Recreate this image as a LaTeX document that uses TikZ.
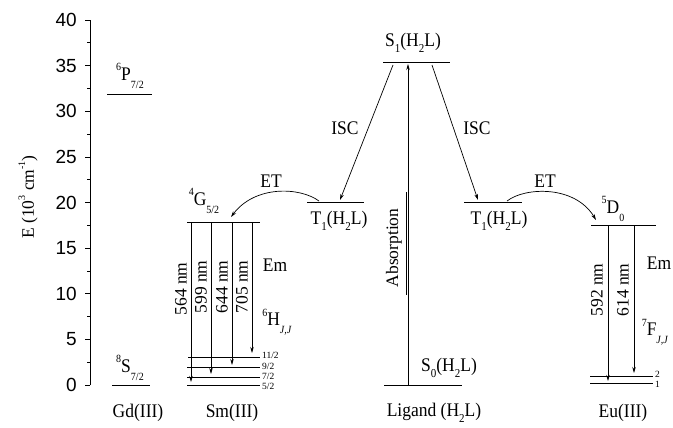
\documentclass[tikz,border=0pt]{standalone}
\usepackage{fontspec}
\setmainfont{Liberation Serif}
\newfontfamily\axfont{Liberation Sans}
\usetikzlibrary{arrows.meta}
\newcommand\lvlab[3]{\raisebox{0.5em}{\fontsize{10}{10}\selectfont #1}#2\raisebox{-0.4em}{\fontsize{10}{10}\selectfont #3}}
\newcommand\sm[1]{\raisebox{-0.3em}{\fontsize{11}{11}\selectfont #1}}
\newcommand\tl[1]{\scalebox{1}[1.1]{#1}}
\tikzset{
 lvl/.style={line width=1pt},
 tr/.style={line width=0.7pt,-{Stealth[length=6pt,width=3.5pt]}},
 lab/.style={font=\fontsize{17.5}{17.5}\selectfont, inner sep=0pt},
 wl/.style={font=\fontsize{17.5}{17.5}\selectfont, rotate=90, inner sep=0pt},
 sublab/.style={font=\fontsize{9.5}{9.5}\selectfont, inner sep=0pt, anchor=west},
 ticklab/.style={font=\axfont\fontsize{19}{19}\selectfont, anchor=east, inner sep=0pt},
}
\begin{document}
\begin{tikzpicture}[x=1pt,y=-1pt]
\useasboundingbox (0,0) rectangle (673,428);
% axis
\draw[line width=1pt] (90,385) -- (90,20.2);
\foreach \e in {0,5,...,40}{
  \draw[line width=1pt] (90,{385-9.12*\e}) -- ++(-5,0);
  \node[ticklab] (t\e) at (77,{385-9.12*\e}) {\e};
}
\foreach \e in {2.5,7.5,...,37.5}
  \draw[line width=1pt] (90,{385-9.12*\e}) -- ++(-3,0);
\node[lab,rotate=90] (ylab) at (28,197) {E (10\raisebox{0.5em}{\fontsize{10}{10}\selectfont 3} cm\raisebox{0.5em}{\fontsize{10}{10}\selectfont -1})};

% Gd
\draw[lvl] (107,95) -- (152,95);
\node[lab] (gdP) at (130,76) {\tl{\lvlab{6}{P}{7/2}}};
\draw[lvl] (112,385) -- (150,385);
\node[lab] (gdS) at (130,368) {\tl{\lvlab{8}{S}{7/2}}};
\node[lab] (gd) at (138,413) {\tl{Gd(III)}};

% Sm
\draw[lvl] (187,222) -- (260,222);
\node[lab] (smG) at (204,201) {\tl{\lvlab{4}{G}{5/2}}};
\coordinate (smtop1) at (191,222); \coordinate (smbot1) at (191,382);
\coordinate (smtop2) at (211,222); \coordinate (smbot2) at (211,374);
\coordinate (smtop3) at (232,222); \coordinate (smbot3) at (232,365);
\coordinate (smtop4) at (252,222); \coordinate (smbot4) at (252,353);
\draw[line width=0.8pt] (188,357) -- (260,357);
\draw[line width=0.8pt] (187,367) -- (260,367);
\draw[line width=0.8pt] (187,377) -- (260,377);
\draw[line width=0.8pt] (187,385) -- (260,385);
\node[sublab] (h11) at (262,355) {11/2};
\node[sublab] (h9) at (262,366) {9/2};
\node[sublab] (h7) at (262,376) {7/2};
\node[sublab] (h5) at (262,386) {5/2};
\draw[tr] (smtop1) -- (smbot1);
\draw[tr] (smtop2) -- (smbot2);
\draw[tr] (smtop3) -- (smbot3);
\draw[tr] (smtop4) -- (smbot4);
\node[wl] (w564) at (181,289) {564 nm};
\node[wl] (w599) at (201,287) {599 nm};
\node[wl] (w644) at (222,287) {644 nm};
\node[wl] (w705) at (242,287) {705 nm};
\node[lab] (emsm) at (275,265) {\tl{Em}};
\node[lab] (smH) at (277,322) {\tl{\lvlab{6}{H}{\textit{J,J}}}};
\node[lab] (sm) at (232,413) {\tl{Sm(III)}};

% Ligand
\draw[lvl] (383,63) -- (450,63);
\node[lab] (s1) at (413,43) {\tl{S\sm{1}(H\sm{2}L)}};
\draw[lvl] (384,385) -- (462,385);
\node[lab] (s0) at (449,368) {\tl{S\sm{0}(H\sm{2}L)}};
\coordinate (absb) at (408,385); \coordinate (abst) at (408,64);
\draw[tr] (absb) -- (abst);
\node[wl] (abs) at (394,248) {Absorption};
\coordinate (absl0) at (406,192); \coordinate (absl1) at (406,295);
\draw[line width=0.5pt] (absl0) -- (absl1);
\draw[lvl] (307,202) -- (364,202);
\node[lab] (t1l) at (339,221) {\tl{T\sm{1}(H\sm{2}L)}};
\draw[lvl] (464,202) -- (522,202);
\node[lab] (t1r) at (499,221) {\tl{T\sm{1}(H\sm{2}L)}};
\coordinate (iscl0) at (393,65); \coordinate (iscl1) at (340,200);
\coordinate (iscr0) at (432,65); \coordinate (iscr1) at (478,200);
\draw[tr] (iscl0) -- (iscl1);
\draw[tr] (iscr0) -- (iscr1);
\node[lab] (iscL) at (345,128) {\tl{ISC}};
\node[lab] (iscR) at (477,128) {\tl{ISC}};
\node[lab] (lig) at (434,413) {\tl{Ligand (H\sm{2}L)}};

% ET
\coordinate (etl0) at (319,201); \coordinate (etl1) at (231,217);
\draw[tr] (etl0) .. controls (300,187) and (255,185) .. (etl1);
\node[lab] (etL) at (271,181) {\tl{ET}};
\coordinate (etr0) at (507,201); \coordinate (etr1) at (596,220);
\draw[tr] (etr0) .. controls (525,187) and (575,185) .. (etr1);
\node[lab] (etR) at (545,181) {\tl{ET}};

% Eu
\draw[lvl] (591,225) -- (656,225);
\node[lab] (euD) at (613,209) {\tl{\lvlab{5}{D}{0}}};
\draw[line width=0.8pt] (590,376) -- (653,376);
\draw[line width=0.8pt] (590,383) -- (653,383);
\node[sublab] (f2) at (655,374) {2};
\node[sublab] (f1) at (655,384) {1};
\coordinate (eut1) at (608,225); \coordinate (eub1) at (608,381);
\coordinate (eut2) at (634,225); \coordinate (eub2) at (634,373);
\draw[tr] (eut1) -- (eub1);
\draw[tr] (eut2) -- (eub2);
\node[wl] (w592) at (597,290) {592 nm};
\node[wl] (w614) at (623,290) {614 nm};
\node[lab] (emeu) at (659,263) {\tl{Em}};
\node[lab] (euF) at (655,332) {\tl{\lvlab{7}{F}{\textit{J,J}}}};
\node[lab] (eu) at (623,413) {\tl{Eu(III)}};
\end{tikzpicture}
\end{document}
